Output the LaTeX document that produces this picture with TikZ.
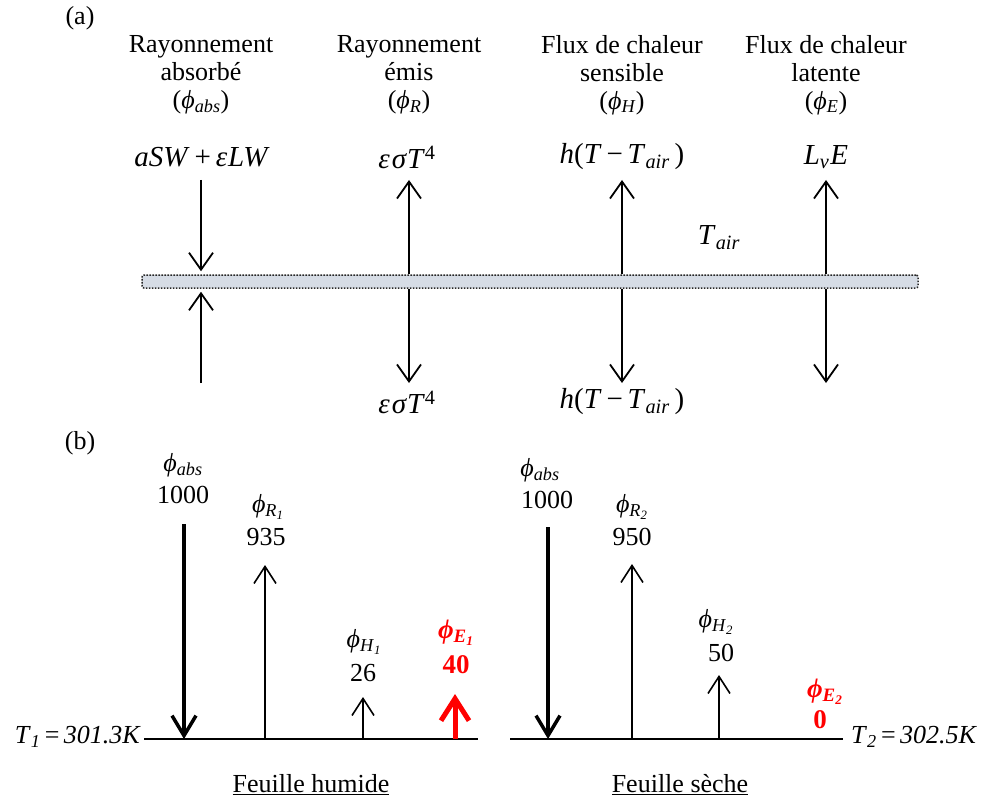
\documentclass[tikz,border=0pt]{standalone}
\usepackage{fontspec}
\setmainfont{Liberation Serif}
\usetikzlibrary{arrows.meta}
\newcommand\phis[1]{\textit{ϕ}\textsubscript{\textit{#1}}}
\definecolor{barfill}{HTML}{D6DCE5}
\begin{document}
\begin{tikzpicture}[x=1pt,y=-1pt,
  every node/.style={font=\fontsize{26}{28}\selectfont, inner sep=0pt},
  hdr/.style={align=center},
  frm/.style={font=\fontsize{29}{30}\selectfont},
  arr/.style={line width=1.8pt,-{Straight Barb[length=17pt,width=24pt,line width=1.8pt]}},
  thinarr/.style={line width=1.6pt,-{Straight Barb[length=17pt,width=22pt,line width=1.6pt]}},
  bigarr/.style={line width=3.5pt,-{Straight Barb[length=20pt,width=24pt,line width=3.5pt]}},
  redarr/.style={red,line width=5pt,-{Straight Barb[length=22pt,width=28pt,line width=5pt]}},
  base/.style={line width=1.5pt},
  redlbl/.style={red,font=\fontsize{27}{28}\selectfont\bfseries}
]
\useasboundingbox (0,0) rectangle (981,802);
% ---------- (a) ----------
\node (la) at (80,18) {(a)};
\node[hdr] (h1) at (201,75) {Rayonnement\\absorbé\\(\phis{abs})};
\node[hdr] (h2) at (409,75) {Rayonnement\\émis\\(\phis{R})};
\node[hdr] (h3) at (622,75) {Flux de chaleur\\sensible\\(\phis{H})};
\node[hdr] (h4) at (826,75) {Flux de chaleur\\latente\\(\phis{E})};
\node[frm] (f1) at (202,157) {\textit{aSW}\,+\,\textit{ε\kern1pt LW}};
\node[frm] (f2) at (407,157) {\textit{ε\kern2pt σ\kern1pt T}\textsuperscript{4}};
\node[frm] (f3) at (622,157) {\textit{h}(\textit{T}\,−\,\textit{T}\textsubscript{\textit{air}}\,)};
\node[frm] (f4) at (826,157) {\textit{L}\textsubscript{\textit{v}}\kern1pt\textit{E}};
\node[frm] (tair) at (719,238) {\textit{T}\textsubscript{\textit{air}}};
\node[draw=black!85,dash pattern=on 1.6pt off 1.4pt,line width=1.5pt,fill=barfill,rounded corners=2pt,minimum width=776pt,minimum height=13pt] (bar) at (530,281.5) {};
\coordinate (a1t) at (201,180);
\coordinate (a1d) at (201,383);
\coordinate (a2t) at (409,180);
\coordinate (a2d) at (409,383);
\coordinate (a3t) at (622,180);
\coordinate (a3d) at (622,383);
\coordinate (a4t) at (826,180);
\coordinate (a4d) at (826,383);
\draw[arr] (a1t) -- ([yshift=3pt]a1t |- bar.north);
\draw[arr] (a1d) -- ([yshift=-3pt]a1d |- bar.south);
\draw[arr] (a2t |- bar.north) -- (a2t);
\draw[arr] (a2d |- bar.south) -- (a2d);
\draw[arr] (a3t |- bar.north) -- (a3t);
\draw[arr] (a3d |- bar.south) -- (a3d);
\draw[arr] (a4t |- bar.north) -- (a4t);
\draw[arr] (a4d |- bar.south) -- (a4d);
\node[frm] (g2) at (407,402) {\textit{ε\kern2pt σ\kern1pt T}\textsuperscript{4}};
\node[frm] (g3) at (622,402) {\textit{h}(\textit{T}\,−\,\textit{T}\textsubscript{\textit{air}}\,)};
% ---------- (b) ----------
\node (lb) at (80,443) {(b)};
\coordinate (L0) at (144,739);
\coordinate (L1) at (478,739);
\coordinate (R0) at (510,739);
\coordinate (R1) at (843,739);
\draw[base] (L0) -- (L1);
\draw[base] (R0) -- (R1);
\node[anchor=east] (t1) at (141,737) {\textit{T}\textsubscript{\textit{1}}\,=\,\textit{301.3K}};
\node[anchor=west] (t2) at (851,737) {\textit{T}\textsubscript{\textit{2}}\,=\,\textit{302.5K}};
% left leaf
\node (pa1) at (183,465) {\phis{abs}};
\node (va1) at (183,495) {1000};
\node (pr1) at (268,507) {\textit{ϕ}\textsubscript{\textit{R}\textsubscript{\textit{1}}}};
\node (vr1) at (266,537) {935};
\node (ph1) at (364,642) {\textit{ϕ}\textsubscript{\textit{H}\textsubscript{\textit{1}}}};
\node (vh1) at (363,673) {26};
\node[redlbl] (pe1) at (456,633) {\textit{ϕ}\textsubscript{\textit{E}\textsubscript{\textit{1}}}};
\node[redlbl] (ve1) at (456,665) {40};
\coordinate (b1a) at (184,524);
\coordinate (b1r) at (265,565);
\coordinate (b1h) at (363,697);
\coordinate (b1e) at (455,694);
\draw[bigarr] (b1a) -- (b1a |- L0);
\draw[thinarr] (b1r |- L0) -- (b1r);
\draw[thinarr] (b1h |- L0) -- (b1h);
\draw[redarr] (b1e |- L0) -- (b1e);
% right leaf
\node (pa2) at (540,470) {\phis{abs}};
\node (va2) at (547,500) {1000};
\node (pr2) at (632,507) {\textit{ϕ}\textsubscript{\textit{R}\textsubscript{\textit{2}}}};
\node (vr2) at (632,537) {950};
\node (ph2) at (716,622) {\textit{ϕ}\textsubscript{\textit{H}\textsubscript{\textit{2}}}};
\node (vh2) at (721,653) {50};
\node[redlbl] (pe2) at (825,692) {\textit{ϕ}\textsubscript{\textit{E}\textsubscript{\textit{2}}}};
\node[redlbl] (ve2) at (820,720) {0};
\coordinate (b2a) at (548,527);
\coordinate (b2r) at (632,564);
\coordinate (b2h) at (719,675);
\draw[bigarr] (b2a) -- (b2a |- R0);
\draw[thinarr] (b2r |- R0) -- (b2r);
\draw[thinarr] (b2h |- R0) -- (b2h);
\node (c1) at (311,785) {\underline{Feuille humide}};
\node (c2) at (680,785) {\underline{Feuille sèche}};
\end{tikzpicture}
\end{document}
